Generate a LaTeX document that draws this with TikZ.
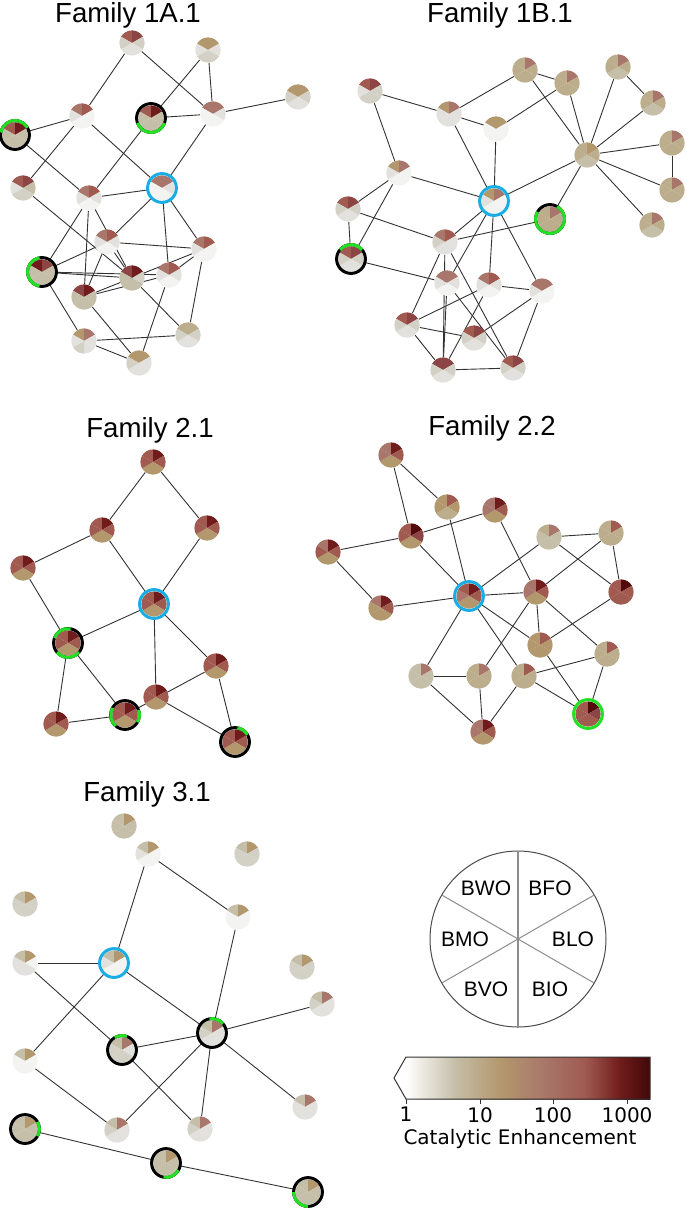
\documentclass[tikz,border=0pt]{standalone}
\usepackage{fontspec}
\setmainfont{Liberation Sans}
\newfontfamily\djv{DejaVu Sans}
\definecolor{W}{HTML}{F3F3F2}
\definecolor{L}{HTML}{E2E1DD}
\definecolor{G}{HTML}{D3D0C6}
\definecolor{S}{HTML}{C5BEA8}
\definecolor{T}{HTML}{B3986E}
\definecolor{K}{HTML}{BCAE8C}
\definecolor{P}{HTML}{A8766A}
\definecolor{R}{HTML}{A05A50}
\definecolor{M}{HTML}{8C4444}
\definecolor{D}{HTML}{701C1C}
\definecolor{X}{HTML}{520A0A}
\definecolor{ringblue}{HTML}{1AADE4}
\definecolor{ringgreen}{HTML}{22E022}
\newcommand\pie[7]{%
 \fill[#2] (#1.center) -- +(90:6.3pt) arc[start angle=90,end angle=150,radius=6.3pt] -- cycle;
 \fill[#3] (#1.center) -- +(30:6.3pt) arc[start angle=30,end angle=90,radius=6.3pt] -- cycle;
 \fill[#4] (#1.center) -- +(-30:6.3pt) arc[start angle=-30,end angle=30,radius=6.3pt] -- cycle;
 \fill[#5] (#1.center) -- +(-90:6.3pt) arc[start angle=-90,end angle=-30,radius=6.3pt] -- cycle;
 \fill[#6] (#1.center) -- +(-150:6.3pt) arc[start angle=-150,end angle=-90,radius=6.3pt] -- cycle;
 \fill[#7] (#1.center) -- +(150:6.3pt) arc[start angle=150,end angle=210,radius=6.3pt] -- cycle;}
\newcommand\bring[1]{\draw[line width=1.5pt,black] (#1.center) circle[radius=7.2pt];}
\newcommand\cring[1]{\draw[line width=1.5pt,ringblue] (#1.center) circle[radius=7.2pt];}
\newcommand\garc[3]{\draw[line width=1.5pt,ringgreen] (#1.center) ++(#2:7.2pt) arc[start angle=#2,end angle=#3,radius=7.2pt];}
\tikzset{pn/.style={circle,inner sep=0pt,minimum size=12.6pt},
 edge/.style={draw=black!80,line width=0.45pt},
 ttl/.style={font=\fontsize{13.8}{16}\selectfont},
 lg/.style={font=\fontsize{10.5}{12}\selectfont}}
\begin{document}
\begin{tikzpicture}[x=0.5pt,y=-0.5pt]
\useasboundingbox (0,0) rectangle (685,1208);
% titles
\node[ttl] (t1) at (128,15) {Family 1A.1};
\node[ttl] (t2) at (500,15) {Family 1B.1};
\node[ttl] (t3) at (150,430) {Family 2.1};
\node[ttl] (t4) at (492,428) {Family 2.2};
\node[ttl] (t5) at (147,794) {Family 3.1};
\foreach \n/\x/\y in {a1/132/43,a2/208/50,a3/298/97,a4/82/116,a5/151/118,a6/213/114,a7/15/135,a8/23/188,a9/89/198,a10/162/188,a11/107/242,a12/204/249,a13/42/272,a14/132/278,a15/169/275,a16/84/297,a17/84/341,a18/188/335,a19/139/363,
b1/525/70,b2/567/83,b3/618/67,b4/370/91,b5/653/103,b6/449/114,b7/496/129,b8/672/143,b9/587/155,b10/399/173,b11/672/190,b12/494/201,b13/348/209,b14/550/219,b15/652/225,b16/445/242,b17/351/259,b18/447/283,b19/489/285,b20/542/291,b21/407/325,b22/474/338,b23/443/370,b24/513/368,
c1/153/462,c2/102/530,c3/207/528,c4/23/568,c5/154/604,c6/68/643,c7/216/666,c8/156/697,c9/125/715,c10/56/724,c11/235/742,
d1/391/455,d2/447/507,d3/495/510,d4/411/536,d5/549/537,d6/611/533,d7/328/552,d8/469/596,d9/536/592,d10/621/592,d11/381/608,d12/540/645,d13/607/654,d14/421/676,d15/479/676,d16/524/676,d17/588/714,d18/483/732,
e1/124/826,e2/148/854,e3/247/854,e4/25/904,e5/238/917,e6/25/963,e7/114/963,e8/302/967,e9/322/1004,e10/212/1033,e11/122/1050,e12/25/1061,e13/305/1107,e14/117/1130,e15/200/1129,e16/25/1129,e17/166/1163,e18/308/1192}
 \node[pn] (\n) at (\x,\y) {};
\foreach \u/\v in {a1/a4,a1/a6,a2/a5,a2/a6,a6/a3,a5/a6,a4/a7,a4/a8,a4/a10,a7/a9,a5/a9,a6/a10,a9/a10,a8/a14,a10/a11,a10/a12,a10/a15,a9/a13,a9/a16,a9/a14,a11/a13,a11/a12,a11/a14,a11/a16,a13/a14,a13/a17,a12/a16,a12/a15,a12/a18,a15/a16,a15/a19,a14/a18,a16/a19,a17/a18,a17/a19,a13/a15,
b1/b6,b1/b2,b1/b9,b2/b7,b2/b9,b3/b9,b3/b5,b5/b9,b8/b9,b8/b11,b11/b9,b15/b9,b9/b12,b9/b14,b4/b6,b4/b10,b6/b7,b6/b12,b7/b12,b10/b12,b10/b13,b10/b17,b13/b17,b13/b16,b12/b16,b12/b18,b12/b19,b12/b20,b14/b16,b17/b18,b16/b21,b16/b23,b16/b24,b18/b23,b18/b24,b19/b20,b19/b21,b19/b23,b20/b22,b20/b24,b21/b22,b21/b23,b23/b24,
c1/c2,c1/c3,c2/c4,c2/c5,c3/c5,c4/c6,c5/c6,c5/c8,c5/c7,c6/c10,c6/c9,c7/c9,c10/c9,c8/c11,c7/c11,
d1/d4,d1/d2,d2/d8,d3/d4,d3/d9,d4/d7,d4/d8,d7/d11,d11/d8,d8/d5,d8/d9,d8/d14,d8/d16,d8/d12,d5/d6,d5/d10,d6/d9,d6/d10,d9/d12,d9/d15,d9/d13,d10/d12,d12/d17,d13/d16,d13/d17,d14/d15,d14/d18,d15/d18,d16/d18,d16/d17,
e2/e7,e2/e5,e5/e10,e6/e7,e6/e11,e7/e12,e7/e10,e10/e11,e10/e9,e10/e13,e10/e14,e10/e15,e11/e15,e12/e14,e16/e17,e17/e18}
 \draw[edge] (\u) -- (\v);
\pie{a1}{R}{M}{G}{L}{L}{G}\pie{a2}{T}{T}{L}{G}{G}{L}\pie{a3}{T}{T}{G}{L}{L}{G}
\pie{a4}{P}{R}{W}{W}{W}{L}\pie{a5}{R}{D}{S}{S}{S}{S}\pie{a6}{P}{P}{L}{W}{W}{W}
\pie{a7}{R}{D}{S}{S}{S}{S}\pie{a8}{R}{M}{S}{G}{G}{L}\pie{a9}{P}{R}{L}{W}{W}{L}
\pie{a10}{P}{P}{L}{W}{W}{W}\pie{a11}{P}{R}{L}{W}{W}{L}\pie{a12}{P}{R}{W}{W}{W}{L}
\pie{a13}{D}{M}{S}{S}{S}{S}\pie{a14}{M}{D}{G}{S}{S}{S}\pie{a15}{P}{R}{L}{W}{W}{L}
\pie{a16}{M}{D}{S}{S}{S}{S}\pie{a17}{T}{P}{L}{L}{G}{L}\pie{a18}{K}{K}{G}{L}{L}{G}
\pie{a19}{T}{T}{L}{L}{L}{G}
\pie{b1}{K}{P}{K}{K}{K}{K}\pie{b2}{K}{P}{K}{K}{K}{K}\pie{b3}{K}{P}{K}{S}{S}{K}
\pie{b4}{R}{M}{G}{G}{G}{L}\pie{b5}{K}{P}{K}{S}{S}{K}\pie{b6}{T}{P}{L}{L}{L}{L}
\pie{b7}{T}{T}{W}{W}{W}{W}\pie{b8}{K}{P}{K}{K}{K}{K}\pie{b9}{K}{T}{K}{S}{S}{K}
\pie{b10}{T}{P}{W}{W}{W}{L}\pie{b11}{K}{P}{K}{K}{K}{K}\pie{b12}{T}{P}{W}{W}{W}{L}
\pie{b13}{R}{M}{G}{L}{L}{G}\pie{b14}{K}{P}{K}{K}{K}{K}\pie{b15}{K}{P}{K}{S}{S}{K}
\pie{b16}{P}{R}{L}{L}{L}{G}\pie{b17}{R}{M}{G}{L}{L}{G}\pie{b18}{P}{P}{L}{W}{W}{L}
\pie{b19}{P}{R}{L}{W}{W}{L}\pie{b20}{P}{P}{W}{W}{W}{L}\pie{b21}{R}{M}{G}{L}{L}{G}
\pie{b22}{R}{M}{G}{L}{L}{G}\pie{b23}{M}{M}{G}{L}{L}{G}\pie{b24}{R}{M}{G}{L}{L}{G}
\foreach \n in {c1,c2,c3,c4,c5,c6,c7,c8,c9,c10,c11} {\pie{\n}{R}{D}{R}{T}{T}{R}}
\pie{d1}{P}{D}{R}{T}{T}{P}\pie{d2}{T}{R}{T}{K}{K}{T}\pie{d3}{P}{D}{R}{T}{T}{P}
\pie{d4}{R}{X}{M}{T}{T}{R}\pie{d5}{K}{P}{S}{S}{S}{S}\pie{d6}{K}{R}{K}{K}{K}{K}
\pie{d7}{P}{D}{R}{T}{T}{R}\pie{d8}{R}{D}{R}{T}{T}{P}\pie{d9}{P}{D}{R}{T}{T}{P}
\pie{d10}{R}{X}{R}{R}{R}{R}\pie{d11}{P}{D}{R}{T}{T}{T}\pie{d12}{T}{R}{T}{T}{T}{T}
\pie{d13}{K}{R}{K}{K}{K}{K}\pie{d14}{S}{P}{S}{S}{S}{S}\pie{d15}{K}{P}{K}{K}{K}{K}
\pie{d16}{K}{R}{K}{K}{K}{K}\pie{d17}{R}{X}{M}{R}{R}{R}\pie{d18}{P}{D}{R}{T}{T}{P}
\pie{e1}{S}{T}{S}{S}{S}{S}\pie{e2}{S}{T}{W}{W}{W}{L}\pie{e3}{S}{T}{G}{G}{G}{G}
\pie{e4}{S}{T}{G}{G}{G}{G}\pie{e5}{S}{T}{W}{W}{W}{W}\pie{e6}{S}{T}{W}{L}{L}{L}
\pie{e7}{S}{T}{W}{W}{W}{L}\pie{e8}{S}{T}{G}{G}{G}{G}\pie{e9}{S}{P}{L}{L}{L}{G}
\pie{e10}{S}{P}{L}{L}{L}{G}\pie{e11}{S}{P}{L}{G}{G}{G}\pie{e12}{S}{T}{W}{W}{W}{W}
\pie{e13}{S}{P}{L}{L}{L}{L}\pie{e14}{S}{P}{L}{L}{L}{G}\pie{e15}{S}{P}{L}{L}{L}{G}
\pie{e16}{S}{T}{S}{S}{S}{S}\pie{e17}{S}{T}{S}{S}{S}{S}\pie{e18}{S}{T}{S}{S}{S}{S}
\cring{a10}\cring{b12}\cring{c5}\cring{d8}\cring{e7}
\bring{a7}\garc{a7}{30}{170}
\bring{a5}\garc{a5}{200}{340}
\bring{a13}\garc{a13}{100}{260}
\bring{b14}\garc{b14}{150}{420}
\bring{b17}\garc{b17}{40}{140}
\bring{c6}\garc{c6}{80}{160}\garc{c6}{220}{320}
\bring{c9}\garc{c9}{150}{230}\garc{c9}{-30}{20}
\bring{c11}\garc{c11}{30}{80}
\garc{d17}{0}{360}
\bring{e10}\garc{e10}{40}{100}
\bring{e11}\garc{e11}{70}{120}
\bring{e16}\garc{e16}{-30}{30}
\bring{e17}\garc{e17}{-100}{-30}
\bring{e18}\garc{e18}{180}{270}
\node[circle,draw=black!70,line width=0.5pt,minimum size=88pt,inner sep=0pt] (leg) at (518,939) {};
\draw[black!45,line width=0.6pt] (leg.north) -- (leg.south);
\draw[black!45,line width=0.5pt] (leg.center) -- +(30:44pt) (leg.center) -- +(150:44pt) (leg.center) -- +(210:44pt) (leg.center) -- +(330:44pt);
\node[lg] (lw) at (486,888) {BWO};
\node[lg] (lf) at (550,888) {BFO};
\node[lg] (lm) at (465,939) {BMO};
\node[lg] (ll) at (573,939) {BLO};
\node[lg] (lv) at (486,989) {BVO};
\node[lg] (li) at (550,989) {BIO};
\shade[left color=white,right color=S] (406,1057) rectangle (455,1099);
\shade[left color=S,right color=T] (455,1057) rectangle (500,1099);
\shade[left color=T,right color=P] (500,1057) rectangle (545,1099);
\shade[left color=P,right color=R] (545,1057) rectangle (585,1099);
\shade[left color=R,right color=D] (585,1057) rectangle (620,1099);
\shade[left color=D,right color=X!80!black] (620,1057) rectangle (650,1099);
\fill[white] (406,1057) -- (394,1078) -- (406,1099) -- cycle;
\draw[black!80,line width=0.5pt] (406,1057) -- (650,1057) -- (650,1099) -- (406,1099) -- (394,1078) -- cycle;
\foreach \xx/\lab in {406/1,480/10,553/100,627/1000} {
 \draw[black!80,line width=0.5pt] (\xx,1099) -- (\xx,1104);
 \node[font=\djv\fontsize{10}{11}\selectfont,anchor=north,inner sep=1pt] (tk\lab) at (\xx,1105) {\lab};}
\node[font=\djv\fontsize{10}{11}\selectfont] (cap) at (520,1139) {Catalytic Enhancement};
\end{tikzpicture}
\end{document}
